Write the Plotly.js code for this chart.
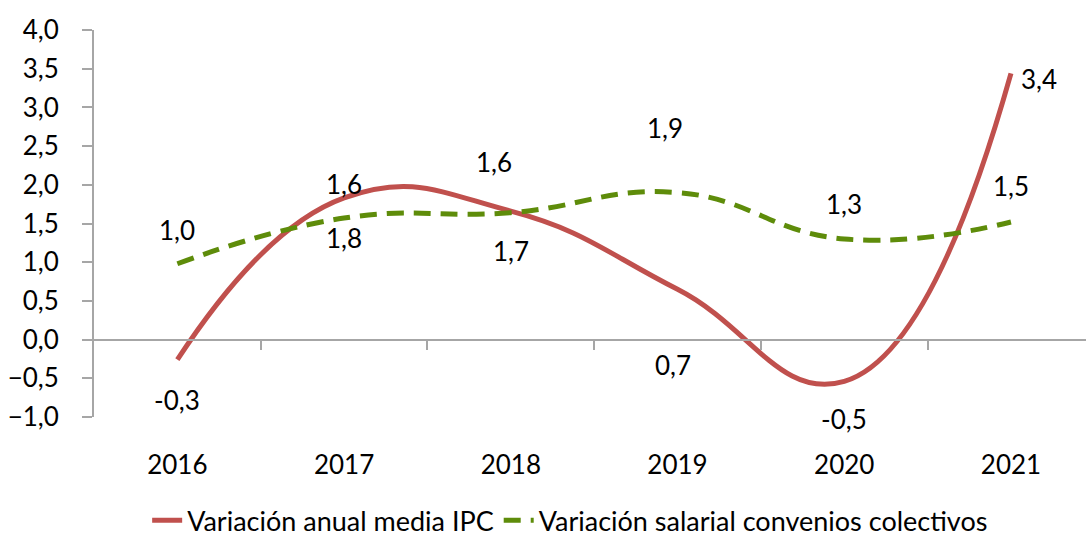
<!DOCTYPE html>
<html>
<head>
<meta charset="utf-8">
<script src="https://cdn.plot.ly/plotly-3.0.1.min.js"></script>
<style>html,body{margin:0;padding:0;background:#fff;}#chart{width:1086px;height:537px;}</style>
</head>
<body>
<div id="chart"></div>
<script>
// ---- data ----
const years = ['2016', '2017', '2018', '2019', '2020', '2021'];
const ipc = [-0.26, 1.83, 1.66, 0.65, -0.54, 3.44];
const salarios = [0.98, 1.57, 1.64, 1.9, 1.3, 1.52];
const seriesNames = ['Variación anual media IPC', 'Variación salarial convenios colectivos'];
const yTicks = [-1.0, -0.5, 0.0, 0.5, 1.0, 1.5, 2.0, 2.5, 3.0, 3.5, 4.0];

// ---- label offsets (style, pixels) ----
const ipcShiftX = [0, 0, 0, -5, 0, 8];
const ipcShiftY = [-40, -40, -40, -76, -38, -6];
const salShiftX = [0, 0, -17, -13, 0, 0];
const salShiftY = [34, 34, 51, 65, 35, 36];

const FONT = 'Lato, "Open Sans", sans-serif';
const idx = years.map((_, i) => i);
const fmt = v => v.toFixed(1).replace('.', ',');

const traces = [
  {x: idx, y: ipc, name: seriesNames[0], type: 'scatter', mode: 'lines',
   line: {color: '#C0504D', width: 5, shape: 'spline', smoothing: 1.3}, hoverinfo: 'skip'},
  {x: idx, y: salarios, name: seriesNames[1], type: 'scatter', mode: 'lines',
   line: {color: '#5E8C0A', width: 5, shape: 'spline', smoothing: 1.3, dash: '17px,10px'}, hoverinfo: 'skip'},
  {x: [], y: [], xaxis: 'x2', yaxis: 'y', showlegend: false, hoverinfo: 'skip', mode: 'lines'}
];

const annotations = [];
ipc.forEach((v, i) => annotations.push({x: i, y: v, xref: 'x', yref: 'y', text: fmt(v), showarrow: false,
  xshift: ipcShiftX[i], yshift: ipcShiftY[i], xanchor: i === 5 ? 'left' : 'center',
  font: {family: FONT, size: 26, color: '#000'}}));
salarios.forEach((v, i) => annotations.push({x: i, y: v, xref: 'x', yref: 'y', text: fmt(v), showarrow: false,
  xshift: salShiftX[i], yshift: salShiftY[i], font: {family: FONT, size: 26, color: '#000'}}));

const layout = {
  width: 1086, height: 537,
  margin: {l: 94, r: 0, t: 30, b: 120, autoexpand: false},
  paper_bgcolor: '#fff', plot_bgcolor: '#fff',
  separators: ',.',
  font: {family: FONT, size: 26, color: '#000'},
  showlegend: true,
  legend: {orientation: 'h', x: 0.48, xanchor: 'center', y: -0.268, yanchor: 'middle',
    font: {family: FONT, size: 27, color: '#000'}, traceorder: 'normal'},
  xaxis: {range: [-0.5, 5.45], tickvals: idx, ticktext: years, showline: false, showgrid: false,
    zeroline: false, ticks: '', ticklabelstandoff: 30, tickfont: {family: FONT, size: 26}},
  xaxis2: {overlaying: 'x', matches: 'x', anchor: 'free', position: 0.2, side: 'bottom',
    tickvals: [0.5, 1.5, 2.5, 3.5, 4.5], ticks: 'outside', ticklen: 9, tickwidth: 2, tickcolor: '#A6A6A6',
    showticklabels: false, showline: true, linecolor: '#A6A6A6', linewidth: 2, showgrid: false, zeroline: false},
  yaxis: {range: [-1, 4], tickvals: yTicks, tickformat: '.1f', showline: true, linecolor: '#A6A6A6', linewidth: 2,
    ticks: 'outside', ticklen: 10, tickwidth: 2, tickcolor: '#A6A6A6', showgrid: false, zeroline: false,
    ticklabelstandoff: 18, tickfont: {family: FONT, size: 26}},
  annotations: annotations
};

Plotly.newPlot('chart', traces, layout, {displayModeBar: false, staticPlot: true});
</script>
</body>
</html>
